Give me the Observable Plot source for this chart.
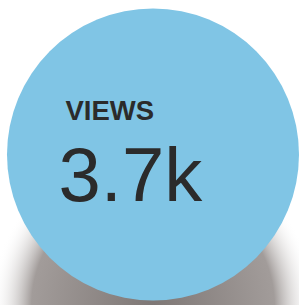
<!DOCTYPE html>
<html>
<head>
<meta charset="utf-8">
<script src="https://cdn.jsdelivr.net/npm/d3@7"></script>
<script src="https://cdn.jsdelivr.net/npm/@observablehq/plot@0.6"></script>
<style>
  html, body { margin: 0; padding: 0; background: #ffffff; }
  #chart svg { display: block; }
</style>
</head>
<body>
<div id="chart"></div>
<script>
// Data
const labels = ["VIEWS"];
const values = [3700];
const valueLabels = ["3.7k"];

const table = labels.map((label, i) => ({label, value: values[i], text: valueLabels[i]}));

const font = "'Liberation Sans', Arial, sans-serif";

const chart = Plot.plot({
  width: 299,
  height: 305,
  marginLeft: 6,
  marginRight: 0,
  marginTop: 8,
  marginBottom: 5,
  style: {background: "#ffffff", fontFamily: font},
  r: {type: "sqrt", domain: [0, d3.max(values)], range: [0, 146]},
  marks: [
    // soft shadow under the bubble
    Plot.dot(table, {
      frameAnchor: "middle",
      r: 162,
      dy: 152,
      fill: "url(#shadowGrad)",
      stroke: "none",
      ariaLabel: "shadow"
    }),
    // bubble
    Plot.dot(table, {
      frameAnchor: "middle",
      r: "value",
      fill: "#80c5e5",
      stroke: "none",
      ariaLabel: "bubble"
    }),
    Plot.text(table, {
      frameAnchor: "middle",
      text: "label",
      dx: -87.5,
      dy: -35,
      textAnchor: "start",
      lineAnchor: "bottom",
      fontSize: 27.5,
      fontWeight: "bold",
      fill: "#2b2b2b",
      ariaLabel: "label"
    }),
    Plot.text(table, {
      frameAnchor: "middle",
      text: "text",
      dx: -94.5,
      dy: 46,
      textAnchor: "start",
      lineAnchor: "bottom",
      fontSize: 76,
      fill: "#2b2b2b",
      ariaLabel: "value"
    })
  ]
});

// defs for the shadow gradient and blur
const svg = d3.select(chart);
const defs = svg.insert("defs", ":first-child");
const grad = defs.append("radialGradient").attr("id", "shadowGrad");
grad.append("stop").attr("offset", "0%").attr("stop-color", "#7e7775").attr("stop-opacity", 1);
grad.append("stop").attr("offset", "75%").attr("stop-color", "#a29c9a").attr("stop-opacity", 1);
grad.append("stop").attr("offset", "100%").attr("stop-color", "#ffffff").attr("stop-opacity", 0);
defs.append("filter").attr("id", "shadowBlur").attr("x", "-20%").attr("y", "-50%").attr("width", "140%").attr("height", "200%")
  .append("feGaussianBlur").attr("stdDeviation", 3);

svg.selectAll("g[aria-label='shadow'] circle").each(function() {
  const c = d3.select(this);
  const cx = +c.attr("cx") || 0, cy = +c.attr("cy") || 0;
  c.attr("transform", `translate(${cx},${cy}) scale(1,0.2) translate(${-cx},${-cy})`)
   .attr("filter", "url(#shadowBlur)");
});

document.getElementById("chart").appendChild(chart);
</script>
</body>
</html>
